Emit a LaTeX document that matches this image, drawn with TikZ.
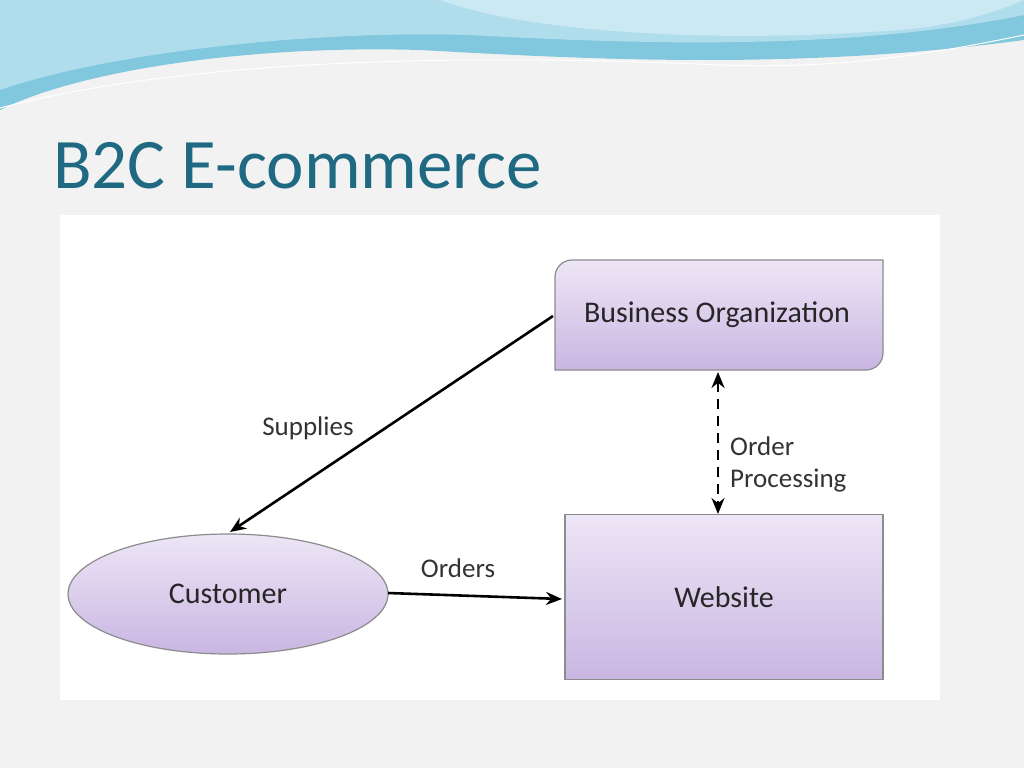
\documentclass[tikz,border=0pt]{standalone}
\usepackage{fontspec}
\setmainfont{Carlito}
\usetikzlibrary{shapes.geometric,arrows.meta}
\definecolor{bg}{HTML}{F2F2F2}
\definecolor{ttl}{HTML}{1F6A82}
\definecolor{lavtop}{HTML}{EDE6F6}
\definecolor{lavbot}{HTML}{C9B6E2}
\definecolor{wave1}{HTML}{7CC7DF}
\definecolor{wave2}{HTML}{4BAFD0}
\tikzset{
 box/.style={draw=black!45,line width=1.2pt,top color=lavtop,bottom color=lavbot,font=\fontsize{30}{34}\selectfont,text=black!85},
 lbl/.style={font=\fontsize{27}{32}\selectfont,text=black!80,align=left},
 arr/.style={-{Stealth[length=16pt,width=13pt]},line width=2.6pt,black}
}
\begin{document}
\begin{tikzpicture}[x=1pt,y=-1pt]
\useasboundingbox (0,0) rectangle (1024,768);
\fill[bg] (0,0) rectangle (1024,768);
% waves
\fill[wave2!70] (0,0) -- (1024,0) -- (1024,40) .. controls (800,70) and (600,60) .. (420,50) .. controls (250,45) and (80,70) .. (0,110) -- cycle;
\fill[wave1!60!white] (0,0) -- (1024,0) -- (1024,15) .. controls (850,50) and (650,45) .. (470,35) .. controls (300,30) and (100,55) .. (0,90) -- cycle;
\fill[white!60!wave1] (440,0) .. controls (520,30) and (700,45) .. (900,30) .. controls (960,25) and (1000,10) .. (1024,0) -- cycle;
\draw[white,line width=1pt] (0,108) .. controls (200,55) and (500,55) .. (720,65) .. controls (850,70) and (950,50) .. (1024,35);
\node[anchor=base west,text=ttl,font=\fontsize{71}{76}\selectfont,inner sep=0] (title) at (53,188) {B2C E-commerce};
\fill[white] (60,215) rectangle (940,700);
% nodes
\path[box] (572,260) -- (883,260) -- (883,353) arc (0:90:17) -- (555,370) -- (555,277) arc (180:270:17) -- cycle;
\node[font=\fontsize{30}{34}\selectfont,text=black!85] (bo) at (717,315) {Business Organization};
\node[box,minimum width=318pt,minimum height=165pt] (web) at (724,597) {Website};
\node[box,ellipse,minimum width=320pt,minimum height=120pt] (cu) at (228,594) {Customer};
% connectors
\coordinate (s1) at (553,316);
\coordinate (s2) at (230,532);
\draw[arr] (s1) -- (s2);
\node[lbl] (sup) at (308,428) {Supplies};
\coordinate (o1) at (388,593);
\coordinate (o2) at (562,599);
\draw[arr] (o1) -- (o2);
\node[lbl] (ord) at (458,568) {Orders};
\coordinate (d1) at (718,372);
\coordinate (d2) at (718,514);
\draw[arr,{Stealth[length=16pt,width=13pt]}-{Stealth[length=16pt,width=13pt]},dash pattern=on 10pt off 7pt] (d1) -- (d2);
\node[lbl,anchor=west,align=left,inner sep=0] (op) at (730,464) {Order\\Processing};
\end{tikzpicture}
\end{document}
